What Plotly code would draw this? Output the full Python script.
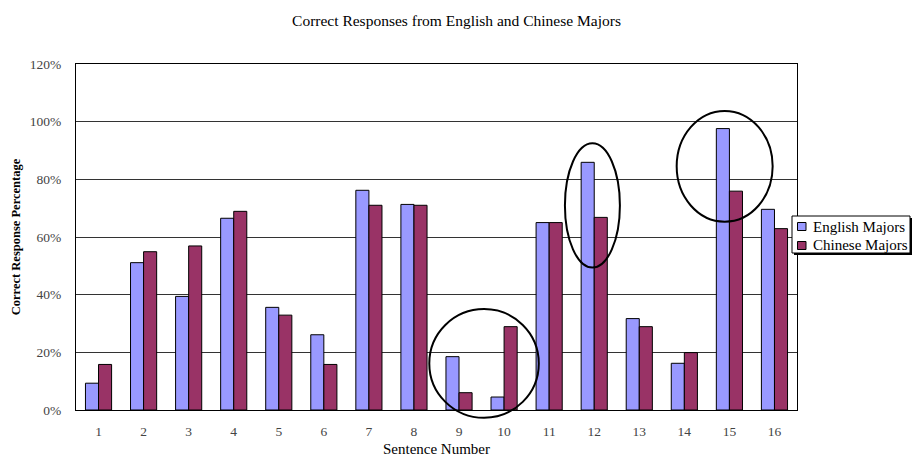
import plotly.graph_objects as go

# Sentence numbers and the share of correct responses per group (percent)
sentences = list(range(1, 17))
english_majors = [9.3, 51.1, 39.4, 66.5, 35.6, 26.1, 76.2, 71.3, 18.5, 4.5, 65.0, 85.9, 31.7, 16.2, 97.6, 69.6]
chinese_majors = [15.8, 54.9, 56.9, 68.9, 32.9, 15.8, 71.0, 71.0, 6.0, 28.9, 65.0, 66.8, 28.9, 19.9, 75.9, 62.9]
y_ticks = [0, 20, 40, 60, 80, 100, 120]
y_tick_text = [f"{v}%" for v in y_ticks]

# Highlight ellipses in data units: (x0, x1, y0, y1)
highlights = [
    (8.34, 10.77, -2.7, 35.0),
    (11.35, 12.57, 49.4, 92.5),
    (13.83, 15.96, 65.3, 103.7),
]

X_RANGE = (0.5, 16.5)
Y_RANGE = (0, 120)

SERIF = "Liberation Serif, Times New Roman, serif"
ENGLISH_COLOR = "#9999FF"
CHINESE_COLOR = "#993366"

# Figure and plot-area geometry in pixels
W, H = 913, 457
ML, MR, MT, MB = 76, 116, 64, 47
PW, PH = W - ML - MR, H - MT - MB

fig = go.Figure()
fig.add_trace(go.Bar(
    x=sentences, y=english_majors, name="English Majors",
    marker=dict(color=ENGLISH_COLOR, line=dict(color="black", width=1)),
))
fig.add_trace(go.Bar(
    x=sentences, y=chinese_majors, name="Chinese Majors",
    marker=dict(color=CHINESE_COLOR, line=dict(color="black", width=1)),
))


def to_domain(v, lo, hi):
    return (v - lo) / (hi - lo)


def px_x(px):
    return (px - ML) / PW


def px_y(py):
    return (H - MB - py) / PH


# Ellipses drawn in axis-domain units so they are not clipped at the plot edge
for x0, x1, y0, y1 in highlights:
    fig.add_shape(
        type="circle",
        xref="x domain", yref="y domain",
        x0=to_domain(x0, *X_RANGE), x1=to_domain(x1, *X_RANGE),
        y0=to_domain(y0, *Y_RANGE), y1=to_domain(y1, *Y_RANGE),
        line=dict(color="black", width=2),
        fillcolor="rgba(0,0,0,0)",
        layer="above",
    )

# Legend box with a drop shadow, to the right of the plot
box_l, box_r, box_t, box_b = 792, 910, 216, 253
fig.add_shape(type="rect", xref="paper", yref="paper",
              x0=px_x(box_l + 2), x1=px_x(box_r + 2),
              y0=px_y(box_b + 2), y1=px_y(box_t + 2),
              fillcolor="black", line=dict(width=0), layer="above")
fig.add_shape(type="rect", xref="paper", yref="paper",
              x0=px_x(box_l), x1=px_x(box_r), y0=px_y(box_b), y1=px_y(box_t),
              fillcolor="white", line=dict(color="black", width=1), layer="above")

legend_rows = [
    ("English Majors", ENGLISH_COLOR, 226.5),
    ("Chinese Majors", CHINESE_COLOR, 245.5),
]
for label, color, cy in legend_rows:
    fig.add_shape(type="rect", xref="paper", yref="paper",
                  x0=px_x(797.5), x1=px_x(806), y0=px_y(cy + 4), y1=px_y(cy - 4),
                  fillcolor=color, line=dict(color="black", width=1), layer="above")
    fig.add_annotation(text=label, xref="paper", yref="paper",
                       x=px_x(811), y=px_y(cy), xanchor="left", yanchor="middle",
                       showarrow=False,
                       font=dict(family=SERIF, size=15, color="black"))

fig.update_layout(
    width=W, height=H,
    margin=dict(l=ML, r=MR, t=MT, b=MB, autoexpand=False),
    paper_bgcolor="white", plot_bgcolor="white",
    barmode="group", bargap=0.42, bargroupgap=0,
    font=dict(family=SERIF, size=13, color="black"),
    title=dict(
        text="Correct Responses from English and Chinese Majors",
        x=0.5, xref="container", xanchor="center",
        y=1 - 21 / H, yref="container", yanchor="middle",
        font=dict(family=SERIF, size=15.5, color="black"),
    ),
    showlegend=False,
)

fig.update_xaxes(
    range=list(X_RANGE), tickmode="array", tickvals=sentences,
    ticktext=[str(s) for s in sentences],
    showgrid=False, zeroline=False,
    showline=True, linecolor="black", linewidth=1, mirror=True,
    ticks="", ticklabelstandoff=9,
    tickfont=dict(family=SERIF, size=13.5, color="#444444"),
    title=dict(text="Sentence Number", standoff=12,
               font=dict(family=SERIF, size=15, color="black")),
)
fig.update_yaxes(
    range=list(Y_RANGE), tickmode="array", tickvals=y_ticks, ticktext=y_tick_text,
    showgrid=True, gridcolor="#333333", gridwidth=1, zeroline=False,
    showline=True, linecolor="black", linewidth=1, mirror=True,
    ticks="", ticklabelstandoff=11,
    tickfont=dict(family=SERIF, size=13.5, color="#444444"),
    title=dict(text="<b>Correct Response Percentage</b>", standoff=6,
               font=dict(family=SERIF, size=12.5, color="black")),
)

fig.write_html("out.html")
